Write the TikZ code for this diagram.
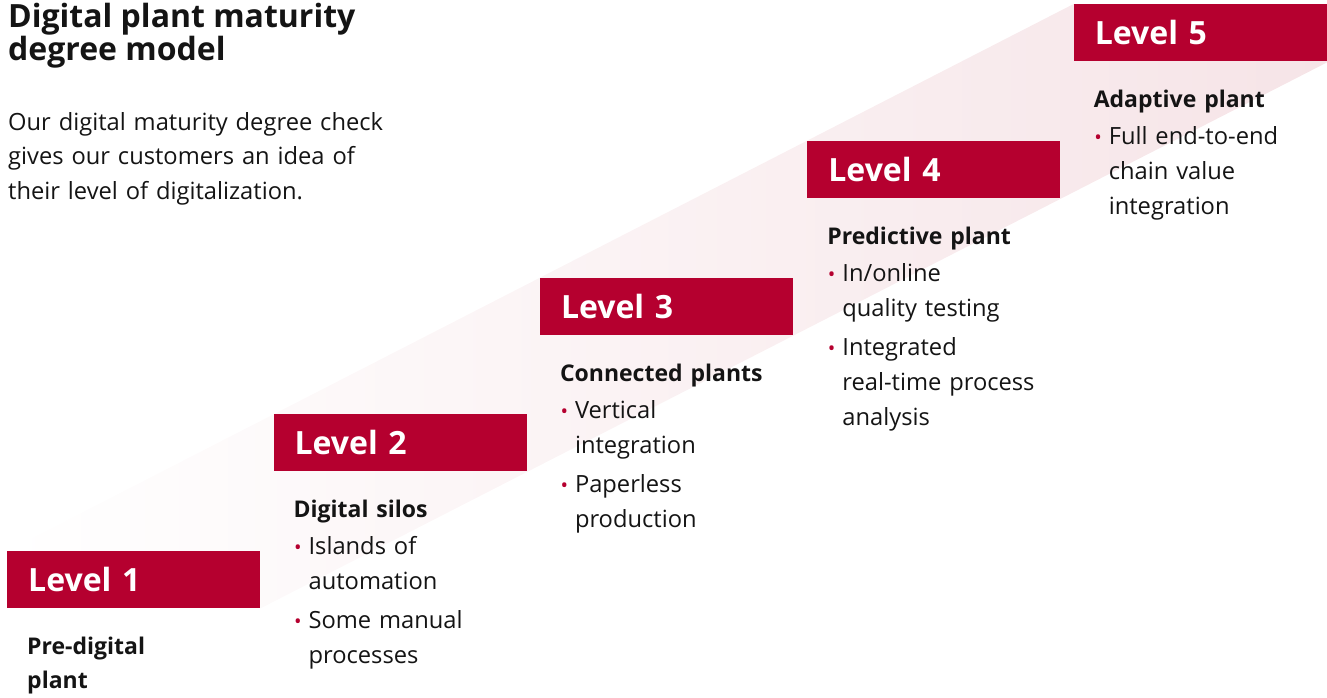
\documentclass[tikz,border=0pt]{standalone}
\usepackage{fontspec}
\setmainfont{Open Sans}
\usepackage{tikz}
\usetikzlibrary{
  positioning,
  shadings
}
\usepackage{xcolor}
\definecolor{lvred}{HTML}{B5002F}
\definecolor{bandpink}{HTML}{F6E4E7}
\definecolor{bandmid}{HTML}{FAF3F2}
\definecolor{ink}{HTML}{141414}
\pgfdeclarelayer{back}
\pgfsetlayers{back,main}

% bullet and hanging indent for the item lines
\newcommand{\bul}{\makebox[15pt][l]{\hspace{0.5pt}\textcolor{lvred}{\raisebox{0.6pt}{\fontsize{20}{20}\selectfont\textbullet}}}}
\newcommand{\ind}{\hspace*{15pt}}
\newcommand{\fstrut}{\rule{0pt}{25pt}}
\newcommand{\hd}[1]{{\fontsize{23}{35}\selectfont\bfseries #1}}

\begin{document}
\begin{tikzpicture}[
x=1pt, y=1pt,
levelbox/.style={rectangle, fill=lvred, text=white, inner sep=0pt,
  minimum width=253pt, minimum height=57pt, text width=253pt, align=left,
  font=\fontsize{32}{32}\selectfont\bfseries},
infotext/.style={inner sep=0pt, text width=250pt, align=left, text=ink,
  font=\fontsize{23.7}{35}\selectfont},
titletext/.style={inner sep=0pt, align=left, text=ink,
  font=\fontsize{32}{30}\selectfont\bfseries},
]
\useasboundingbox (0,0) rectangle (1327,-697);

%Nodes
\node[titletext, anchor=north west] (title) at (8,0)
  {\rule{0pt}{27pt}Digital plant maturity\\degree model};
\node[infotext, anchor=north west, text width=400pt] (intro) at (8,-105)
  {\fstrut Our digital maturity degree check\\[-0.5pt]
   gives our customers an idea of\\[-0.5pt]
   their level of digitalization.};

\node[levelbox, anchor=north west] (lv1) at (7,-551) {\hspace*{21pt}Level 1};
\node[levelbox] (lv2) [above right=137pt and 13pt of lv1.south east] {\hspace*{21pt}Level 2};
\node[levelbox] (lv3) [above right=136pt and 13pt of lv2.south east] {\hspace*{21pt}Level 3};
\node[levelbox] (lv4) [above right=137pt and 14pt of lv3.south east] {\hspace*{21pt}Level 4};
\node[levelbox, minimum width=255pt, text width=255pt] (lv5) [above right=137pt and 13pt of lv4.south east] {\hspace*{21pt}Level 5};

%Band behind the boxes
\begin{pgfonlayer}{back}
\shade[left color=white, middle color=bandmid, right color=bandpink]
  (lv1.north west) -- (lv5.north west) -- (lv5.south east) -- (lv1.south east) -- cycle;
\end{pgfonlayer}

%Texts
\node[infotext] (tx1) [below right=21pt and 20pt of lv1.south west]
  {\fstrut\hd{Pre-digital}\\[-1pt]\hd{plant}};
\node[infotext] (tx2) [below right=21pt and 20pt of lv2.south west]
  {\fstrut\hd{Digital silos}\\[2pt]
   \bul Islands of\\ \ind automation\\[4pt]
   \bul Some manual\\ \ind processes};
\node[infotext] (tx3) [below right=21pt and 20pt of lv3.south west]
  {\fstrut\hd{Connected plants}\\[2pt]
   \bul Vertical\\ \ind integration\\[4pt]
   \bul Paperless\\ \ind production};
\node[infotext] (tx4) [below right=21pt and 20pt of lv4.south west]
  {\fstrut\hd{Predictive plant}\\[2pt]
   \bul In/online\\ \ind quality testing\\[4pt]
   \bul Integrated\\ \ind real-time process\\ \ind analysis};
\node[infotext] (tx5) [below right=21pt and 20pt of lv5.south west]
  {\fstrut\hd{Adaptive plant}\\[2pt]
   \bul Full end-to-end\\ \ind chain value\\ \ind integration};
\end{tikzpicture}
\end{document}
